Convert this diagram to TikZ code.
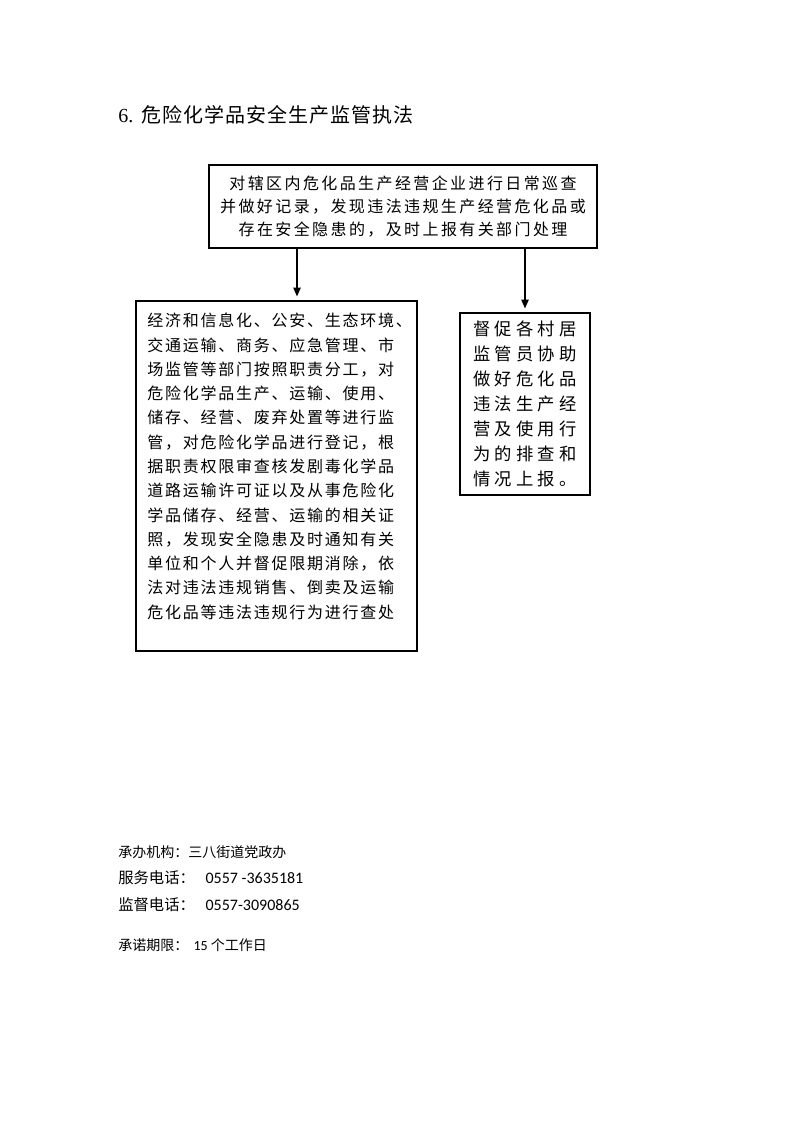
\documentclass[tikz,border=0pt]{standalone}
\usepackage{fontspec}
\setmainfont{Liberation Serif}
\newfontfamily\cjk{Noto Sans CJK SC}
\newfontfamily\cjktitle[LetterSpace=5]{Noto Sans CJK SC}
\newfontfamily\cjkwide[LetterSpace=15]{Noto Sans CJK SC}
\newfontfamily\cjknarrow[LetterSpace=11]{Noto Sans CJK SC}
\newfontfamily\cjkwider[LetterSpace=24]{Noto Sans CJK SC}
\newfontfamily\numfont{Carlito}
\usetikzlibrary{arrows.meta}
\begin{document}
\begin{tikzpicture}[x=0.75pt,y=-0.75pt,>={Triangle[length=6.5pt,width=5.5pt]}]
  \tikzset{frame/.style={draw, line width=0.9pt, inner sep=0pt},
           note/.style={inner sep=0pt, anchor=west}}
  \useasboundingbox[fill=white] (0,0) rectangle (793,1122);
  \node[note] (title) at (118,115) {\fontsize{15}{18}\selectfont 6.\hspace{6pt}{\cjktitle 危险化学品安全生产监管执法}};
  % flow boxes
  \node[frame, minimum width=291pt, minimum height=62.25pt, align=center,
        font=\cjkwide\fontsize{12}{17}\selectfont] (patrol) at (403,206.5)
    {对辖区内危化品生产经营企业进行日常巡查\\并做好记录，发现违法违规生产经营危化品或\\存在安全隐患的，及时上报有关部门处理};
  \node[frame, minimum width=210.75pt, minimum height=262.5pt] (depts) at (276.5,476) {};
  \node[inner sep=0pt, anchor=north west, align=left,
        font=\cjknarrow\fontsize{12}{18.2}\selectfont] (deptstext) at (147,313)
    {经济和信息化、公安、生态环境、\\交通运输、商务、应急管理、市\\场监管等部门按照职责分工，对\\危险化学品生产、运输、使用、\\储存、经营、废弃处置等进行监\\管，对危险化学品进行登记，根\\据职责权限审查核发剧毒化学品\\道路运输许可证以及从事危险化\\学品储存、经营、运输的相关证\\照，发现安全隐患及时通知有关\\单位和个人并督促限期消除，依\\法对违法违规销售、倒卖及运输\\危化品等违法违规行为进行查处};
  \node[frame, minimum width=97.5pt, minimum height=136.5pt, align=left,
        font=\cjkwider\fontsize{13}{18.75}\selectfont] (village) at (525,404)
    {督促各村居\\监管员协助\\做好危化品\\违法生产经\\营及使用行\\为的排查和\\情况上报。};
  \coordinate (split) at (297,0);
  \draw[->, line width=0.9pt, shorten >=3pt] (patrol.south -| split) -- (depts.north -| split);
  \draw[->, line width=0.9pt, shorten >=3pt] (patrol.south -| village.north) -- (village.north);
  % footer
  \node[note, font=\cjk\fontsize{10.5}{12}\selectfont] (office) at (118,852) {承办机构：三八街道党政办};
  \node[note] (service) at (118,878) {\fontsize{11.5}{13}\selectfont{\cjk 服务电话：}\hspace{8pt}{\numfont\fontsize{12}{13}\selectfont 0557 -3635181}};
  \node[note] (supervise) at (118,905) {\fontsize{11.5}{13}\selectfont{\cjk 监督电话：}\hspace{8pt}{\numfont\fontsize{12}{13}\selectfont 0557-3090865}};
  \node[note] (deadline) at (118,945) {\fontsize{10.5}{12}\selectfont{\cjk 承诺期限：}\hspace{4pt}{\numfont 15 }{\cjk 个工作日}};
\end{tikzpicture}
\end{document}
